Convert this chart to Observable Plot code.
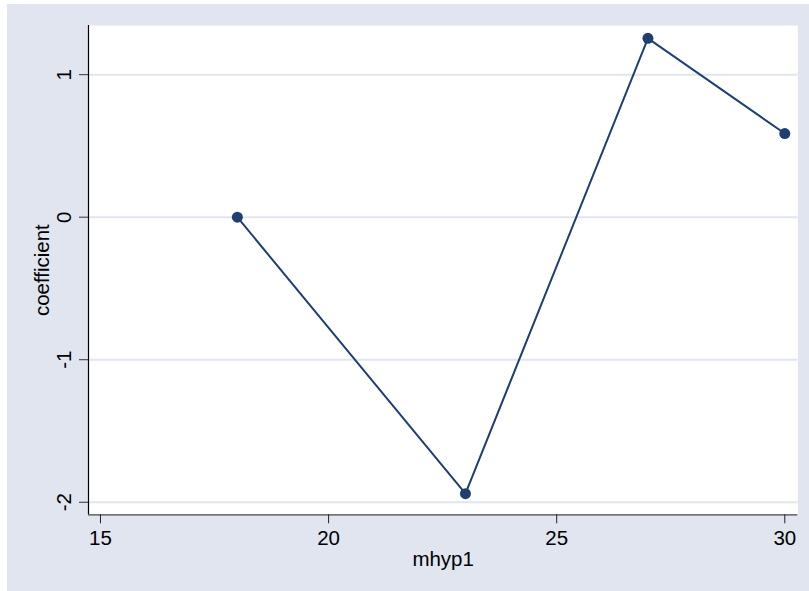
<!DOCTYPE html>
<html>
<head>
<meta charset="utf-8">
<script src="https://cdn.jsdelivr.net/npm/d3@7"></script>
<script src="https://cdn.jsdelivr.net/npm/@observablehq/plot@0.6"></script>
<style>
  html, body { margin: 0; padding: 0; background: #ffffff; }
  #wrap { position: relative; width: 809px; height: 591px; overflow: hidden; }
  #bg { position: absolute; left: 7px; top: 4px; width: 802px; height: 587px; background: #E1E5EF; }
  #chart { position: absolute; left: 0; top: 0; }
  #chart svg { background: transparent; }
</style>
</head>
<body>
<div id="wrap"><div id="bg"></div><div id="chart"></div></div>
<script>
const mhyp1 = [18, 23, 27, 30];
const coefficient = [0, -1.94, 1.255, 0.587];
const xTicks = [15, 20, 25, 30];
const yTicks = [-2, -1, 0, 1];
const xTitle = "mhyp1";
const yTitle = "coefficient";

const data = mhyp1.map((x, i) => ({x, y: coefficient[i]}));
const xDomain = [14.737, 30.285];
const yDomain = [-2.088, 1.345];
const navy = "#1f3f73";
const font = "Liberation Sans, Arial, Helvetica, sans-serif";
const fs = 20.5;

const chart = Plot.plot({
  width: 809,
  height: 591,
  marginLeft: 88,
  marginRight: 11.7,
  marginTop: 25,
  marginBottom: 76.7,
  style: {background: "transparent", fontFamily: font, fontSize: fs + "px", color: "#000"},
  x: {domain: xDomain, label: null},
  y: {domain: yDomain, label: null},
  marks: [
    Plot.frame({fill: "white", stroke: "none"}),
    Plot.ruleY(yTicks, {stroke: "#E1E5EF", strokeWidth: 2}),
    Plot.ruleX([xDomain[0]], {stroke: "#000", strokeWidth: 1.2}),
    Plot.ruleY([yDomain[0]], {stroke: "#444", strokeWidth: 1.3}),
    Plot.axisX({ticks: xTicks, tickSize: 9, tickPadding: 7, stroke: "#222", fontSize: fs, label: null, tickFormat: d => String(d)}),
    Plot.axisY({ticks: yTicks, tickSize: 9, stroke: "#333", tickFormat: () => "", label: null}),
    Plot.text(yTicks, {y: d => d, text: d => String(d), frameAnchor: "left", dx: -24, rotate: -90, textAnchor: "middle", lineAnchor: "middle", fontSize: fs, fill: "#000"}),
    Plot.text([xTitle], {frameAnchor: "bottom", dy: 37, lineAnchor: "top", fontSize: fs, fill: "#000"}),
    Plot.text([yTitle], {frameAnchor: "left", dx: -46, rotate: -90, textAnchor: "middle", lineAnchor: "middle", fontSize: fs, fill: "#000"}),
    Plot.line(data, {x: "x", y: "y", stroke: navy, strokeWidth: 2}),
    Plot.dot(data, {x: "x", y: "y", r: 5.5, fill: navy, stroke: "none"})
  ]
});
document.getElementById("chart").appendChild(chart);
</script>
</body>
</html>
